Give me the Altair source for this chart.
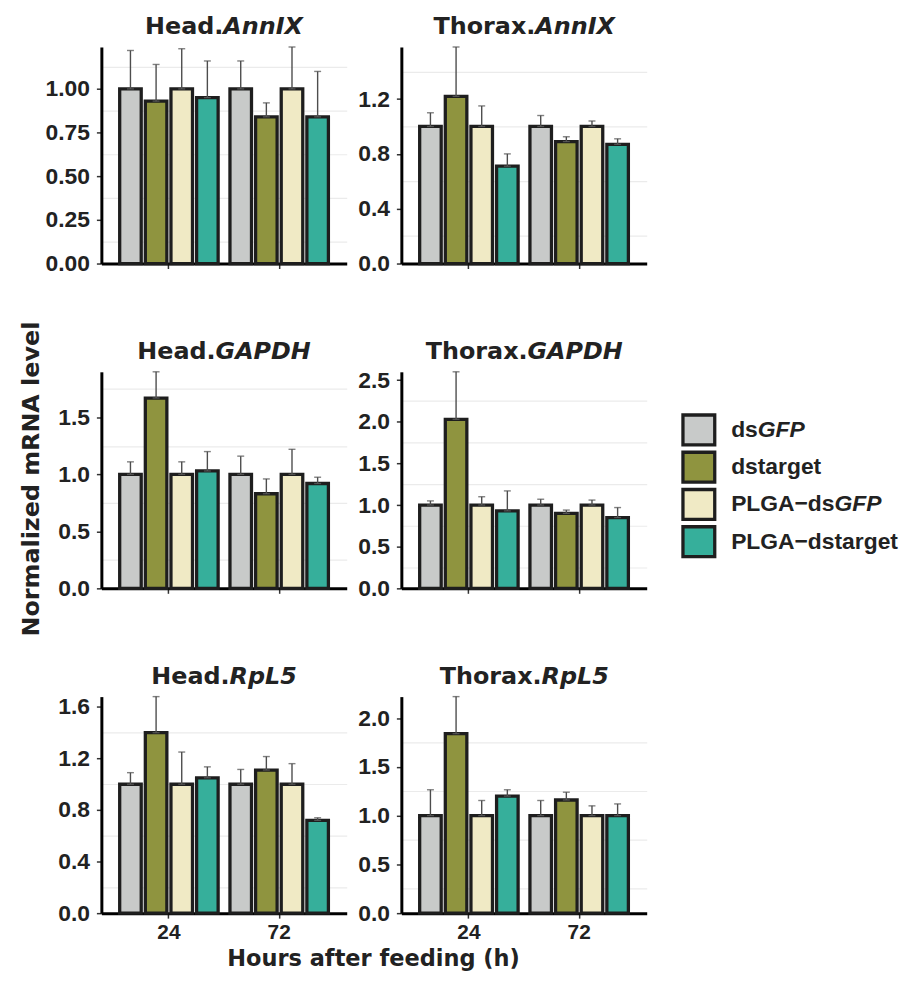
import json
import altair as alt
import pandas as pd

# ---------------- data ----------------
treatments = ["dsGFP", "dstarget", "PLGA−dsGFP", "PLGA−dstarget"]
hours = ["24", "72"]
colors = ["#C8CAC9", "#8F943F", "#F0EAC5", "#36AF9B"]

# legend label parts (normal + italic)
legend_normal = ["ds", "dstarget", "PLGA−ds", "PLGA−dstarget"]
legend_italic = ["GFP", "", "GFP", ""]

# Head.AnnIX
head_annix_24 = [1.00, 0.93, 1.00, 0.95]
head_annix_72 = [1.00, 0.84, 1.00, 0.84]
head_annix_err_24 = [0.22, 0.21, 0.23, 0.21]
head_annix_err_72 = [0.16, 0.08, 0.24, 0.26]
head_annix_ticks = [0.0, 0.25, 0.5, 0.75, 1.0]

# Thorax.AnnIX
thorax_annix_24 = [1.00, 1.22, 1.00, 0.71]
thorax_annix_72 = [1.00, 0.89, 1.00, 0.87]
thorax_annix_err_24 = [0.10, 0.36, 0.15, 0.09]
thorax_annix_err_72 = [0.08, 0.035, 0.04, 0.04]
thorax_annix_ticks = [0.0, 0.4, 0.8, 1.2]

# Head.GAPDH
head_gapdh_24 = [1.00, 1.67, 1.00, 1.03]
head_gapdh_72 = [1.00, 0.83, 1.00, 0.92]
head_gapdh_err_24 = [0.11, 0.23, 0.11, 0.17]
head_gapdh_err_72 = [0.16, 0.13, 0.22, 0.055]
head_gapdh_ticks = [0.0, 0.5, 1.0, 1.5]

# Thorax.GAPDH
thorax_gapdh_24 = [1.00, 2.03, 1.00, 0.93]
thorax_gapdh_72 = [1.00, 0.90, 1.00, 0.85]
thorax_gapdh_err_24 = [0.05, 0.57, 0.10, 0.24]
thorax_gapdh_err_72 = [0.07, 0.04, 0.06, 0.12]
thorax_gapdh_ticks = [0.0, 0.5, 1.0, 1.5, 2.0, 2.5]

# Head.RpL5
head_rpl5_24 = [1.00, 1.40, 1.00, 1.05]
head_rpl5_72 = [1.00, 1.11, 1.00, 0.72]
head_rpl5_err_24 = [0.09, 0.28, 0.25, 0.085]
head_rpl5_err_72 = [0.115, 0.105, 0.16, 0.02]
head_rpl5_ticks = [0.0, 0.4, 0.8, 1.2, 1.6]

# Thorax.RpL5
thorax_rpl5_24 = [1.00, 1.84, 1.00, 1.20]
thorax_rpl5_72 = [1.00, 1.16, 1.00, 1.00]
thorax_rpl5_err_24 = [0.265, 0.38, 0.155, 0.065]
thorax_rpl5_err_72 = [0.155, 0.08, 0.10, 0.12]
thorax_rpl5_ticks = [0.0, 0.5, 1.0, 1.5, 2.0]

# ---------------- style ----------------
W, H = 247, 218
TXT = "#222222"
TITLE_FONT = "DejaVu Sans"
TICK_FONT = "Liberation Sans"

# approx advance widths (em) of DejaVu Sans Bold, for centring the mixed-style titles
DJV = {"H": .837, "e": .678, "a": .675, "d": .716, ".": .380, "T": .682, "h": .712,
       "o": .687, "r": .493, "x": .663, "A": .774, "n": .712, "I": .372, "X": .774,
       "G": .821, "P": .733, "D": .830, "R": .770, "p": .716, "L": .637, "5": .696}
# approx advance widths (em) of Liberation Sans Bold, for the legend labels
LIB = {"d": .611, "s": .556, "P": .667, "L": .611, "G": .778, "A": .722, "−": .584,
       "t": .333, "a": .556, "r": .389, "g": .611, "e": .556}


def textw(s, table, size):
    return sum(table.get(c, 0.6) for c in s) * size


def panel(tissue, gene, m24, m72, e24, e72, ticks, fmt, xlabels=False, extra=()):
    df = pd.DataFrame({
        "hour": [h for h in hours for _ in treatments],
        "treatment": treatments * 2,
        "mean": m24 + m72,
        "err": e24 + e72,
    })
    df["upper"] = df["mean"] + df["err"]
    ymax = float(df["upper"].max())
    step = ticks[1] - ticks[0]
    minors = [round(t + step / 2, 4) for t in ticks if t + step / 2 <= ymax]
    test = f"indexof({json.dumps(minors)}, datum.value) >= 0"

    yscale = alt.Scale(domain=[0, ymax], nice=False, zero=True)
    yaxis = alt.Axis(
        values=ticks + minors, title=None, grid=True, gridColor="#EBEBEB", gridWidth=1.2,
        gridOpacity={"condition": {"test": test, "value": 1}, "value": 0},
        tickOpacity={"condition": {"test": test, "value": 0}, "value": 1},
        labelExpr=f"{test} ? '' : format(datum.value, '{fmt}')",
        labelOverlap=False, labelFlush=False, labelPadding=7, tickSize=5,
    )
    xscale = alt.Scale(domain=hours, paddingInner=0.07, paddingOuter=0.1475)
    xaxis = alt.Axis(title=None, labelAngle=0, labelPadding=4, tickSize=5, labels=xlabels,
                     labelFontSize=21)
    xo = alt.XOffset("treatment:N",
                     scale=alt.Scale(domain=treatments, paddingInner=0.16, paddingOuter=0.08))
    X = alt.X("hour:N", scale=xscale, axis=xaxis)

    base = alt.Chart(df)
    bars = base.mark_bar(stroke="#1e1e1e", strokeWidth=3.3).encode(
        x=X, xOffset=xo,
        y=alt.Y("mean:Q", scale=yscale, axis=yaxis),
        color=alt.Color("treatment:N", scale=alt.Scale(domain=treatments, range=colors),
                        legend=None),
    )
    errs = base.mark_rule(color="#4d4d4d", strokeWidth=1.4).encode(
        x=X, xOffset=xo, y=alt.Y("mean:Q", scale=yscale, axis=yaxis), y2="upper:Q")
    cap_top = base.mark_tick(color="#4d4d4d", thickness=1.4, size=7).encode(
        x=X, xOffset=xo, y=alt.Y("upper:Q", scale=yscale, axis=yaxis))
    cap_bot = base.mark_tick(color="#666666", thickness=1.3, size=7).encode(
        x=X, xOffset=xo, y=alt.Y("mean:Q", scale=yscale, axis=yaxis))

    w1 = textw(tissue + ".", DJV, 24)
    w2 = textw(gene, DJV, 24)
    split = W / 2 + (w1 - w2) / 2
    t1 = alt.Chart(pd.DataFrame({"t": [tissue + "."]})).mark_text(
        align="right", baseline="alphabetic", font=TITLE_FONT, fontWeight="bold",
        fontSize=24, color=TXT).encode(text="t:N", x=alt.value(split), y=alt.value(-13))
    t2 = alt.Chart(pd.DataFrame({"t": [gene]})).mark_text(
        align="left", baseline="alphabetic", font=TITLE_FONT, fontWeight="bold",
        fontStyle="italic", fontSize=24, color=TXT).encode(
        text="t:N", x=alt.value(split), y=alt.value(-13))

    return alt.layer(bars, errs, cap_top, cap_bot, t1, t2, *extra).properties(width=W, height=H)


ytitle = alt.Chart(pd.DataFrame({"t": ["Normalized mRNA level"]})).mark_text(
    align="center", baseline="alphabetic", angle=270, font=TITLE_FONT, fontWeight="bold",
    fontSize=24, color=TXT).encode(text="t:N", x=alt.value(-63), y=alt.value(108))
xtitle = alt.Chart(pd.DataFrame({"t": ["Hours after feeding (h)"]})).mark_text(
    align="center", baseline="alphabetic", font=TITLE_FONT, fontWeight="bold",
    fontSize=22.6, color=TXT).encode(text="t:N", x=alt.value(274), y=alt.value(271))

p1 = panel("Head", "AnnIX", head_annix_24, head_annix_72, head_annix_err_24,
           head_annix_err_72, head_annix_ticks, ".2f")
p2 = panel("Thorax", "AnnIX", thorax_annix_24, thorax_annix_72, thorax_annix_err_24,
           thorax_annix_err_72, thorax_annix_ticks, ".1f")
p3 = panel("Head", "GAPDH", head_gapdh_24, head_gapdh_72, head_gapdh_err_24,
           head_gapdh_err_72, head_gapdh_ticks, ".1f", extra=(ytitle,))
p4 = panel("Thorax", "GAPDH", thorax_gapdh_24, thorax_gapdh_72, thorax_gapdh_err_24,
           thorax_gapdh_err_72, thorax_gapdh_ticks, ".1f")
p5 = panel("Head", "RpL5", head_rpl5_24, head_rpl5_72, head_rpl5_err_24,
           head_rpl5_err_72, head_rpl5_ticks, ".1f", xlabels=True, extra=(xtitle,))
p6 = panel("Thorax", "RpL5", thorax_rpl5_24, thorax_rpl5_72, thorax_rpl5_err_24,
           thorax_rpl5_err_72, thorax_rpl5_ticks, ".1f", xlabels=True)

# ---------------- legend ----------------
LEG_X = 30
leg_df = pd.DataFrame({
    "treatment": treatments,
    "normal": legend_normal,
    "italic": legend_italic,
    "xi": [LEG_X + textw(s, LIB, 23) for s in legend_normal],
})
leg_scale = alt.Scale(domain=treatments, range=[43.5, 186], paddingInner=0.2, paddingOuter=0)
LY = alt.Y("treatment:N", scale=leg_scale, axis=None)
leg_base = alt.Chart(leg_df)
leg_rect = leg_base.mark_rect(stroke="#1e1e1e", strokeWidth=3.3).encode(
    y=LY, x=alt.value(-18.5), x2=alt.value(13.5),
    color=alt.Color("treatment:N", scale=alt.Scale(domain=treatments, range=colors),
                    legend=None))
leg_t1 = leg_base.mark_text(align="left", baseline="middle", font=TICK_FONT,
                            fontWeight="bold", fontSize=23, color=TXT).encode(
    y=LY, x=alt.value(LEG_X), text="normal:N")
leg_t2 = leg_base.mark_text(align="left", baseline="middle", font=TICK_FONT,
                            fontWeight="bold", fontStyle="italic", fontSize=23,
                            color=TXT).encode(
    y=LY, x=alt.X("xi:Q", scale=None), text="italic:N")
legend = alt.layer(leg_rect, leg_t1, leg_t2).properties(width=150, height=H)


def blank():
    return alt.Chart(pd.DataFrame({"a": [0]})).mark_text(text="").properties(width=1, height=1)


chart = alt.concat(
    p1, p2, blank(),
    p3, p4, legend,
    p5, p6, blank(),
    columns=3, spacing={"row": 109, "column": 55}, bounds="flush",
).properties(
    padding={"left": 11, "top": 4, "right": 0, "bottom": 0},
    background="white",
).configure_view(stroke=None).configure_axis(
    domainColor="#000000", domainWidth=3, tickColor="#333333", tickWidth=1.5,
    labelFont=TICK_FONT, labelFontWeight="bold", labelFontSize=23, labelColor=TXT,
)

chart.save("out.html", embed_options={"renderer": "svg", "actions": False})
